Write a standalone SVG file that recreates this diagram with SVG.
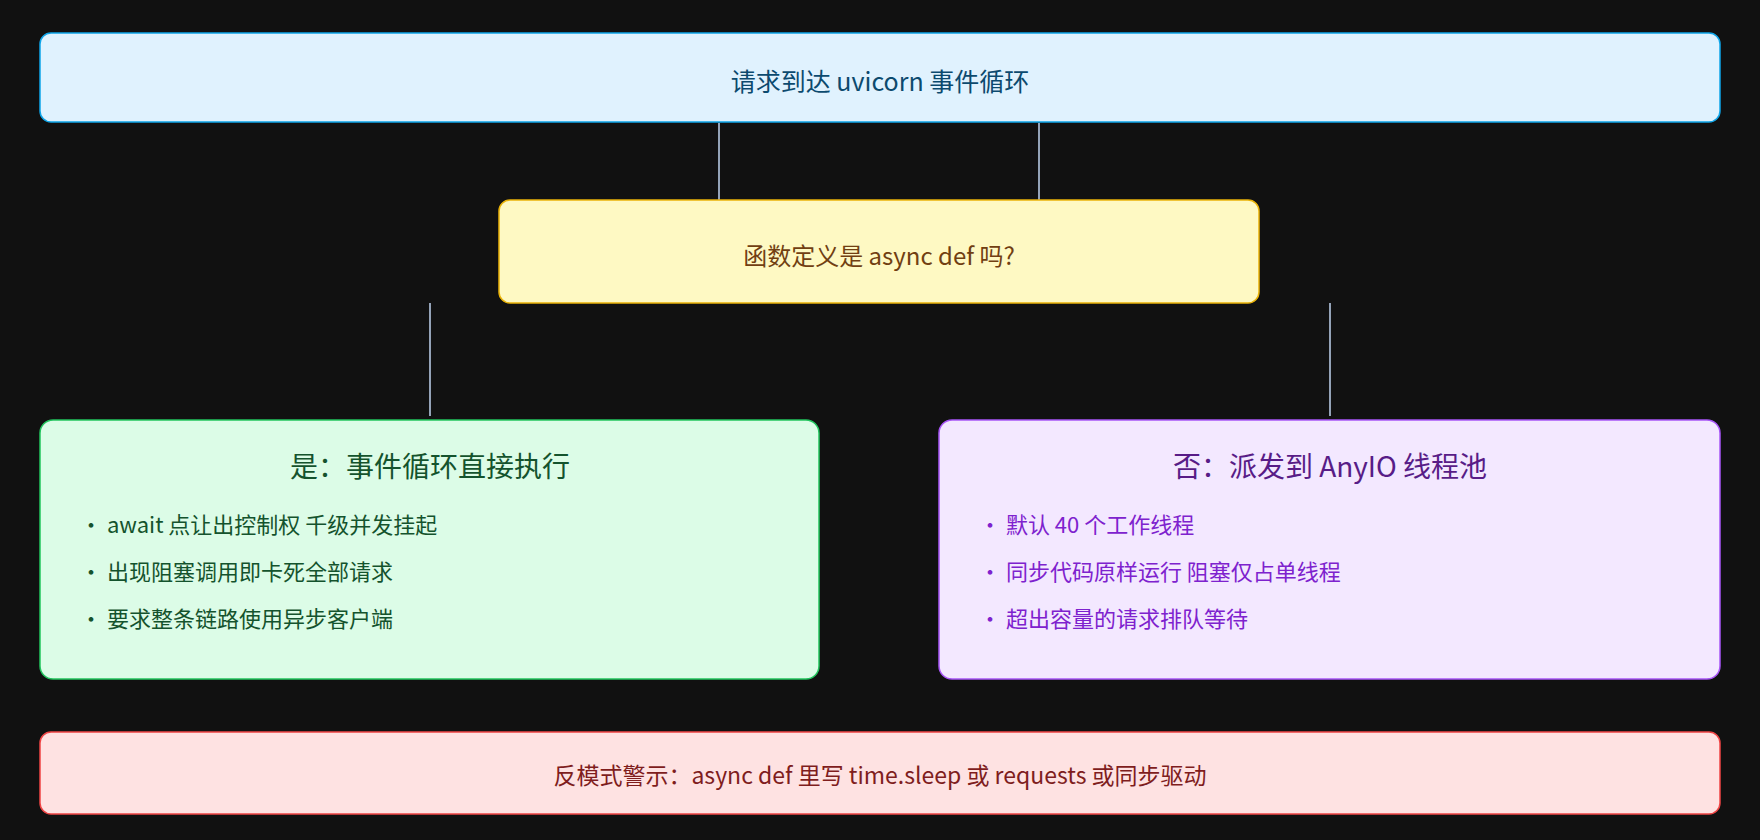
<svg xmlns="http://www.w3.org/2000/svg" width="1760" height="840" viewBox="0 0 1760 840">
<style>
text{font-family:"Noto Sans CJK SC","Noto Sans",sans-serif}
.c{text-anchor:middle;dominant-baseline:central}
.b{dominant-baseline:central;font-size:22px}
.ln{stroke:#94a3b8;stroke-width:2;fill:none}
</style>
<rect width="1760" height="840" fill="#111111"/>
<g id="connectors">
<line class="ln" x1="719" y1="123" x2="719" y2="200"/>
<line class="ln" x1="1039" y1="123" x2="1039" y2="200"/>
<line class="ln" x1="430" y1="303" x2="430" y2="416"/>
<line class="ln" x1="1330" y1="303" x2="1330" y2="416"/>
</g>
<g id="request">
<rect x="40" y="33" width="1680" height="89" rx="11" fill="#e0f2fe" stroke="#0ea5e9" stroke-width="1.5"/>
<text class="c" x="880" y="80" font-size="25" fill="#0c4a6e">请求到达 uvicorn 事件循环</text>
</g>
<g id="decision">
<rect x="499" y="200" width="760" height="103" rx="11" fill="#fef9c3" stroke="#eab308" stroke-width="1.5"/>
<text class="c" x="879" y="254" font-size="24" fill="#713f12">函数定义是 async def 吗?</text>
</g>
<g id="yes">
<rect x="40" y="420" width="779" height="259" rx="13" fill="#dcfce7" stroke="#22c55e" stroke-width="1.5"/>
<text class="c" x="430" y="465" font-size="28" fill="#14532d">是：事件循环直接执行</text>
<text class="b" x="80" y="523" fill="#14532d">· await 点让出控制权 千级并发挂起</text>
<text class="b" x="80" y="570" fill="#14532d">· 出现阻塞调用即卡死全部请求</text>
<text class="b" x="80" y="617" fill="#14532d">· 要求整条链路使用异步客户端</text>
</g>
<g id="no">
<rect x="939" y="420" width="781" height="259" rx="13" fill="#f3e8ff" stroke="#a855f7" stroke-width="1.5"/>
<text class="c" x="1330" y="465" font-size="28" fill="#581c87">否：派发到 AnyIO 线程池</text>
<text class="b" x="979" y="523" fill="#7e22ce">· 默认 40 个工作线程</text>
<text class="b" x="979" y="570" fill="#7e22ce">· 同步代码原样运行 阻塞仅占单线程</text>
<text class="b" x="979" y="617" fill="#7e22ce">· 超出容量的请求排队等待</text>
</g>
<g id="warning">
<rect x="40" y="732" width="1680" height="82" rx="11" fill="#fee2e2" stroke="#ef4444" stroke-width="1.5"/>
<text class="c" x="880" y="774" font-size="23" fill="#7f1d1d">反模式警示：async def 里写 time.sleep 或 requests 或同步驱动</text>
</g>
</svg>
